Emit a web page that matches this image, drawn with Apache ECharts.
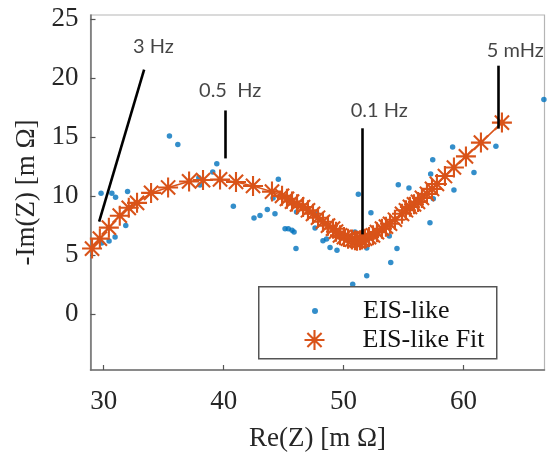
<!DOCTYPE html>
<html>
<head>
<meta charset="utf-8">
<script src="https://cdn.jsdelivr.net/npm/echarts@6/dist/echarts.min.js"></script>
<style>html,body{margin:0;padding:0;background:#fff;}#c{width:547px;height:457px;}</style>
</head>
<body>
<div id="c"></div>
<script>
// Measured data (Re(Z), -Im(Z)) in mΩ
const eisRe = [29.78,30.68,30.99,31.99,31.84,30.95,30.45,29.84,35.48,36.18,39.43,39.09,37.93,38.03,44.56,40.81,42.53,43.03,43.64,44.28,44.12,45.12,45.39,45.70,45.87,46.03,46.08,47.76,47.62,48.28,48.58,48.87,49.45,51.23,52.28,50.95,51.64,51.93,53.81,54.45,53.93,51.93,50.76,54.56,55.45,59.20,57.48,57.20,57.26,57.43,59.09,60.87,62.70,66.70];
const eisIm = [10.24,10.24,9.90,10.37,7.51,6.53,6.20,6.03,15.08,14.36,12.73,12.03,11.55,10.93,11.41,9.14,8.13,8.35,8.86,8.49,9.84,7.23,7.23,7.09,6.96,5.55,8.64,8.49,7.28,6.22,6.35,5.64,5.41,10.15,8.58,6.96,6.96,5.59,6.62,5.55,4.37,3.25,2.52,10.96,10.68,10.51,9.76,7.74,11.86,13.06,14.15,11.98,14.21,18.17];
// Fit
const fitRe = [29.03,29.68,30.43,31.34,32.09,32.78,33.95,35.37,37.12,38.28,39.70,41.03,42.45,44.03,44.87,45.28,45.70,46.12,46.62,47.03,47.45,47.87,48.28,48.70,49.12,49.37,49.70,50.03,50.37,50.70,50.95,51.12,51.37,51.53,51.78,52.12,52.45,52.78,53.20,53.53,53.87,54.28,54.87,55.20,55.53,55.87,56.20,56.53,56.95,57.37,57.78,58.45,59.20,60.20,61.45,63.20];
const fitIm = [5.55,6.39,7.32,8.33,9.00,9.42,10.26,10.72,11.23,11.35,11.40,11.19,10.85,10.37,10.01,9.76,9.53,9.29,9.06,8.79,8.49,8.16,7.82,7.49,7.23,6.98,6.67,6.52,6.39,6.31,6.25,6.22,6.25,6.31,6.39,6.52,6.67,6.94,7.23,7.40,7.65,7.99,8.49,8.79,9.08,9.29,9.50,9.84,10.18,10.60,11.02,11.69,12.41,13.35,14.52,16.21];
// Tick labels
const xTicks = [30,40,50,60];
const yTicks = [0,5,10,15,20,25];
// Frequency annotations
const annotLabels = ['3 Hz','0.5  Hz','0.1 Hz','5 mHz'];
const annotTextAt = [[32.45,22.62],[37.95,18.92],[50.59,17.24],[61.93,22.33]];
const annotLineFrom = [[33.37,20.69],[40.12,17.24],[51.56,15.73],[62.89,21.03]];
const annotLineTo = [[29.62,7.82],[40.12,13.18],[51.56,6.75],[62.89,15.70]];

const SERIF = '"Liberation Serif","Times New Roman",serif';
const SANS = 'Lato,"Open Sans",sans-serif';
const starPath = 'path://M10 0L10 20M0 10L20 10M2.9 2.9L17.1 17.1M2.9 17.1L17.1 2.9';

const chart = echarts.init(document.getElementById('c'), null, {renderer:'canvas'});
const eisData = eisRe.map((x,i)=>[x,eisIm[i]]);
const fitData = fitRe.map((x,i)=>[x,fitIm[i]]);
const labelData = annotLabels.map((n,i)=>({name:n, value:annotTextAt[i]}));
const lineData = annotLineFrom.map((p,i)=>[{coord:p},{coord:annotLineTo[i]}]);

chart.setOption({
  animation:false,
  backgroundColor:'#fff',
  grid:{left:90.5, right:2.5, top:15, bottom:84.7, show:true, borderColor:'#b5b5b5', borderWidth:1.2, containLabel:false},
  xAxis:{
    type:'value', min:28.9, max:66.75,
    name:'Re(Z) [m Ω]', nameLocation:'middle', nameGap:55,
    nameTextStyle:{fontFamily:SERIF, fontSize:27, color:'#262626'},
    axisLine:{show:true, onZero:false, lineStyle:{color:'#707070', width:1.5}},
    axisTick:{show:true, inside:true, length:5, customValues:xTicks, lineStyle:{color:'#555', width:1.2}},
    axisLabel:{customValues:xTicks, fontFamily:SERIF, fontSize:27, color:'#262626', margin:18},
    splitLine:{show:false}
  },
  yAxis:{
    type:'value', min:-4.73, max:25.32,
    name:'-Im(Z) [m Ω]', nameLocation:'middle', nameGap:50,
    nameTextStyle:{fontFamily:SERIF, fontSize:27, color:'#262626'},
    axisLine:{show:true, onZero:false, lineStyle:{color:'#707070', width:1.5}},
    axisTick:{show:true, inside:true, length:5, customValues:yTicks, lineStyle:{color:'#555', width:1.2}},
    axisLabel:{customValues:yTicks, fontFamily:SERIF, fontSize:27, color:'#262626', margin:12},
    splitLine:{show:false}
  },
  legend:[
    {data:[{name:'EIS-like', icon:'circle'}], left:312, top:296, orient:'vertical', padding:0,
     itemWidth:86, itemHeight:6, textStyle:{fontFamily:SERIF, fontSize:26, color:'#111', lineHeight:30}, selectedMode:false},
    {data:[{name:'EIS-like Fit', icon:starPath}], left:302, top:325, orient:'vertical', padding:0,
     itemWidth:86, itemHeight:20, itemStyle:{color:'none', borderColor:'#D95319', borderWidth:2.1},
     textStyle:{fontFamily:SERIF, fontSize:26, color:'#111', lineHeight:30}, selectedMode:false}
  ],
  graphic:[{type:'rect', left:258, top:286, z:3, shape:{width:238, height:72},
            style:{fill:'#fff', stroke:'#555', lineWidth:1.5}}],
  series:[
    {name:'EIS-like', type:'scatter', data:eisData, symbol:'circle', symbolSize:5.5,
     itemStyle:{color:'#0072BD'}, z:2, silent:true},
    {name:'EIS-like Fit', type:'line', data:fitData, symbol:starPath, symbolSize:20, showAllSymbol:true,
     lineStyle:{color:'#D95319', width:1.5},
     itemStyle:{color:'none', borderColor:'#D95319', borderWidth:2.1}, z:2.5, silent:true},
    {name:'annot', type:'scatter', data:labelData, symbolSize:0.1, itemStyle:{color:'rgba(0,0,0,0)'}, z:5, silent:true,
     label:{show:true, position:'inside', formatter:'{b}', align:'left', verticalAlign:'middle', fontFamily:SANS, fontSize:20, color:'#151515'},
     markLine:{silent:true, symbol:['none','none'], label:{show:false}, lineStyle:{color:'#000', width:2.6, type:'solid'}, data:lineData}}
  ]
});
</script>
</body>
</html>
